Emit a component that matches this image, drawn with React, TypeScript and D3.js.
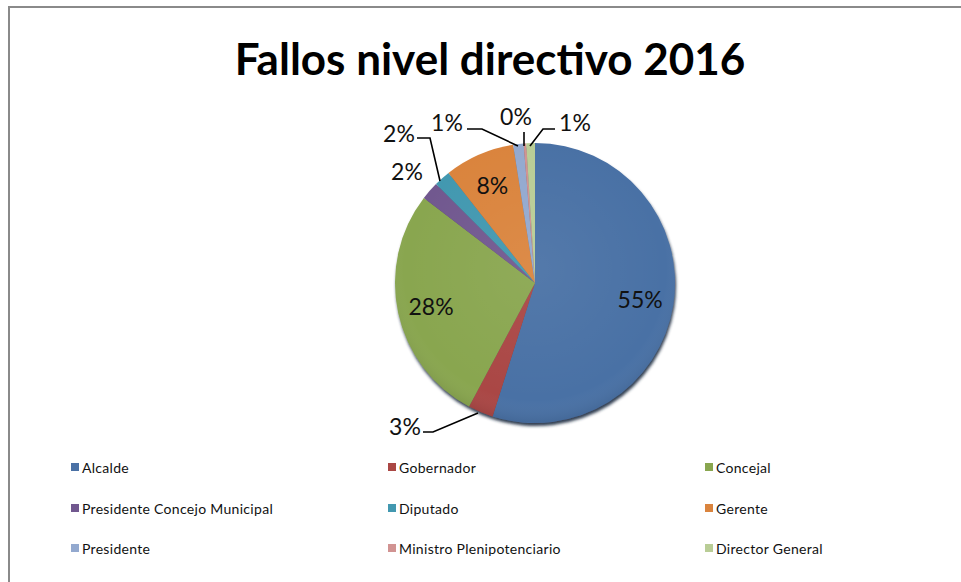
import React from "react";
import * as d3 from "d3";

const categories = [
  "Alcalde",
  "Gobernador",
  "Concejal",
  "Presidente Concejo Municipal",
  "Diputado",
  "Gerente",
  "Presidente",
  "Ministro Plenipotenciario",
  "Director General",
];
const values = [54.9, 2.9, 27.6, 2.1, 1.9, 8.1, 1.2, 0.3, 1.0];
const colors = [
  "#4a71a5",
  "#aa4744",
  "#89a64f",
  "#71588f",
  "#4298b0",
  "#da843e",
  "#93a9cf",
  "#d19392",
  "#b9cd96",
];
const title = "Fallos nivel directivo 2016";

// layout for labels (inside = centroid; outside = manual placement with leader)
const outsideLabels: Record<number, { x: number; y: number; leader: [number, number][] }> = {
  1: { x: 405, y: 426, leader: [[423, 432], [433, 432], [478, 413]] },
  3: { x: 407, y: 171, leader: [] },
  4: { x: 399, y: 133, leader: [[417, 138], [430, 138], [440, 181]] },
  6: { x: 447, y: 122, leader: [[467, 129], [482, 129], [518, 146]] },
  7: { x: 516, y: 116, leader: [[524, 132], [524, 146]] },
  8: { x: 575, y: 122, leader: [[555, 129], [543, 129], [530, 146]] },
};

const W = 961;
const H = 582;
const cx = 535;
const cy = 283;
const R = 140;

export default function App() {
  const pie = d3.pie<number>().sort(null).value((d) => d)(values);
  const arc = d3.arc<d3.PieArcDatum<number>>().innerRadius(0).outerRadius(R);
  const labelArc = d3
    .arc<d3.PieArcDatum<number>>()
    .innerRadius(R * 0.76)
    .outerRadius(R * 0.76);
  const fmt = (v: number) => `${Math.round(v)}%`;
  const line = d3.line();

  const legendX = [71, 388, 705];
  const legendY = [467, 508, 548];

  return (
    <svg width={W} height={H} style={{ position: "absolute", left: 0, top: 0 }}>
      <defs>
        <filter id="sh" x="-20%" y="-20%" width="140%" height="140%">
          <feGaussianBlur in="SourceAlpha" stdDeviation="1.5" />
          <feOffset dx="1" dy="2.5" result="o" />
          <feFlood floodColor="#1c2b40" floodOpacity="0.9" />
          <feComposite in2="o" operator="in" />
          <feMerge>
            <feMergeNode />
            <feMergeNode in="SourceGraphic" />
          </feMerge>
        </filter>
        <radialGradient id="shade" cx="50%" cy="45%" r="55%">
          <stop offset="0%" stopColor="#fff" stopOpacity="0.06" />
          <stop offset="85%" stopColor="#fff" stopOpacity="0" />
          <stop offset="100%" stopColor="#000" stopOpacity="0.08" />
        </radialGradient>
      </defs>
      <rect x={0} y={0} width={W} height={H} fill="#fff" />
      <rect x={9} y={7} width={W + 20} height={H + 20} fill="#fff" stroke="#8a8a8a" strokeWidth={2} />
      <text
        x={490}
        y={75}
        textAnchor="middle"
        fontFamily="Lato, 'Open Sans', sans-serif"
        fontWeight="bold"
        fontSize={44}
        fill="#000"
      >
        {title}
      </text>
      <g transform={`translate(${cx},${cy})`}>
        <g filter="url(#sh)">
          {pie.map((d, i) => (
            <path key={i} d={arc(d) || ""} fill={colors[i]} />
          ))}
        </g>
        <circle r={R} fill="url(#shade)" />
      </g>
      {pie.map((d, i) => {
        if (outsideLabels[i]) return null;
        const [lx, ly] = labelArc.centroid(d);
        return (
          <text
            key={"l" + i}
            x={cx + lx}
            y={cy + ly}
            textAnchor="middle"
            dominantBaseline="central"
            fontFamily="Lato, 'Open Sans', sans-serif"
            fontSize={23}
            fill="#111"
          >
            {fmt(values[i])}
          </text>
        );
      })}
      {Object.entries(outsideLabels).map(([k, o]) => {
        const i = +k;
        return (
          <g key={"o" + i}>
            {o.leader.length > 0 && (
              <path d={line(o.leader) || ""} fill="none" stroke="#000" strokeWidth={1.6} />
            )}
            <text
              x={o.x}
              y={o.y}
              textAnchor="middle"
              dominantBaseline="central"
              fontFamily="Lato, 'Open Sans', sans-serif"
              fontSize={23}
              fill="#111"
            >
              {fmt(values[i])}
            </text>
          </g>
        );
      })}
      {categories.map((c, i) => {
        const x = legendX[i % 3];
        const y = legendY[Math.floor(i / 3)];
        return (
          <g key={"lg" + i}>
            <rect x={x} y={y - 4} width={8} height={8} fill={colors[i]} />
            <text
              x={x + 11}
              y={y}
              dominantBaseline="central"
              fontFamily="Lato, 'Open Sans', sans-serif"
              fontSize={14}
              letterSpacing={0.3}
              fill="#111"
            >
              {c}
            </text>
          </g>
        );
      })}
    </svg>
  );
}
